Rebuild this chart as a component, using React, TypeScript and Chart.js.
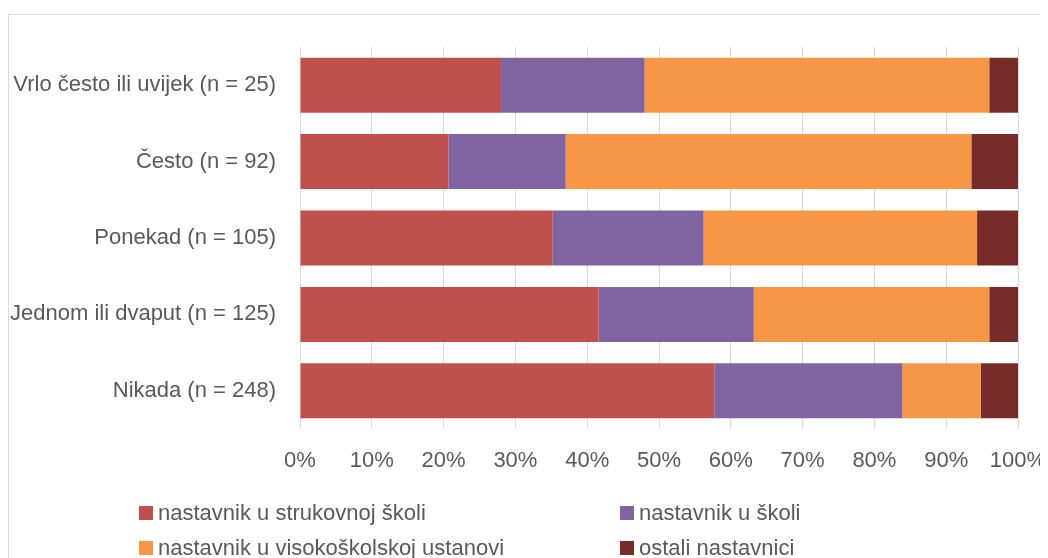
import React, { useEffect, useRef } from "react";
import { Chart, registerables } from "chart.js";

Chart.register(...registerables);

const categories = [
  "Vrlo često ili uvijek (n = 25)",
  "Često (n = 92)",
  "Ponekad (n = 105)",
  "Jednom ili dvaput (n = 125)",
  "Nikada (n = 248)",
];

const seriesNames = [
  "nastavnik u strukovnoj školi",
  "nastavnik u školi",
  "nastavnik u visokoškolskoj ustanovi",
  "ostali nastavnici",
];

const strukovna = [28, 20.7, 35.2, 41.6, 57.7];
const skola = [20, 16.3, 21.0, 21.6, 26.2];
const visokoskolska = [48, 56.5, 38.1, 32.8, 10.9];
const ostali = [4, 6.5, 5.7, 4.0, 5.2];

const colors = ["#C0504D", "#8064A2", "#F79646", "#772C2A"];

const xTicks = [0, 10, 20, 30, 40, 50, 60, 70, 80, 90, 100];

const FONT = "'Liberation Sans', Arial, sans-serif";
const TEXT = "#595959";
const FS = 22;

export default function App() {
  const ref = useRef<HTMLCanvasElement | null>(null);

  useEffect(() => {
    if (!ref.current) return;
    const values = [strukovna, skola, visokoskolska, ostali];
    const chart = new Chart(ref.current, {
      type: "bar",
      data: {
        labels: categories,
        datasets: seriesNames.map((name, i) => ({
          label: name,
          data: values[i],
          backgroundColor: colors[i],
          borderWidth: 0,
          categoryPercentage: 0.72,
          barPercentage: 1,
        })),
      },
      options: {
        indexAxis: "y",
        responsive: false,
        animation: false,
        layout: { padding: { top: 39, right: 30, left: 0, bottom: 69 } },
        plugins: { legend: { display: false }, tooltip: { enabled: false } },
        scales: {
          x: {
            stacked: true,
            min: 0,
            max: 100,
            afterBuildTicks: (s: any) => {
              s.ticks = xTicks.map((v) => ({ value: v }));
            },
            afterFit: (s: any) => {
              s.height = 60;
              s.paddingLeft = 0;
              s.paddingRight = 0;
            },
            grid: { color: "#D9D9D9", lineWidth: 1, drawTicks: false },
            border: { display: false },
            ticks: {
              color: TEXT,
              font: { family: FONT, size: FS },
              padding: 19,
              maxRotation: 0,
              callback: (v: any) => v + "%",
            },
          },
          y: {
            stacked: true,
            afterFit: (s: any) => {
              s.width = 292;
              s.paddingTop = 0;
              s.paddingBottom = 0;
            },
            grid: { display: false, drawTicks: false },
            border: { display: false },
            ticks: {
              color: TEXT,
              font: { family: FONT, size: FS },
              padding: 24,
            },
          },
        },
      },
    });
    return () => chart.destroy();
  }, []);

  const legendPos = [
    { x: 131, y: 497 },
    { x: 612, y: 497 },
    { x: 131, y: 532 },
    { x: 612, y: 532 },
  ];

  return (
    <div style={{ position: "relative", width: 1040, height: 550, fontFamily: FONT }}>
      <div
        style={{
          position: "absolute",
          left: 0,
          top: 6,
          width: 1040,
          height: 544,
          boxSizing: "border-box",
          borderTop: "1px solid #D9D9D9",
          borderLeft: "1px solid #D9D9D9",
        }}
      />
      <canvas
        ref={ref}
        width={1040}
        height={550}
        style={{ position: "absolute", left: 0, top: 0 }}
      />
      {seriesNames.map((name, i) => (
        <div
          key={name}
          style={{
            position: "absolute",
            left: legendPos[i].x,
            top: legendPos[i].y,
            height: 16,
            display: "flex",
            alignItems: "center",
            color: TEXT,
            fontSize: FS,
            lineHeight: "16px",
            whiteSpace: "nowrap",
          }}
        >
          <span
            style={{
              display: "inline-block",
              width: 14,
              height: 14,
              background: colors[i],
              marginRight: 5,
            }}
          />
          <span>{name}</span>
        </div>
      ))}
    </div>
  );
}
